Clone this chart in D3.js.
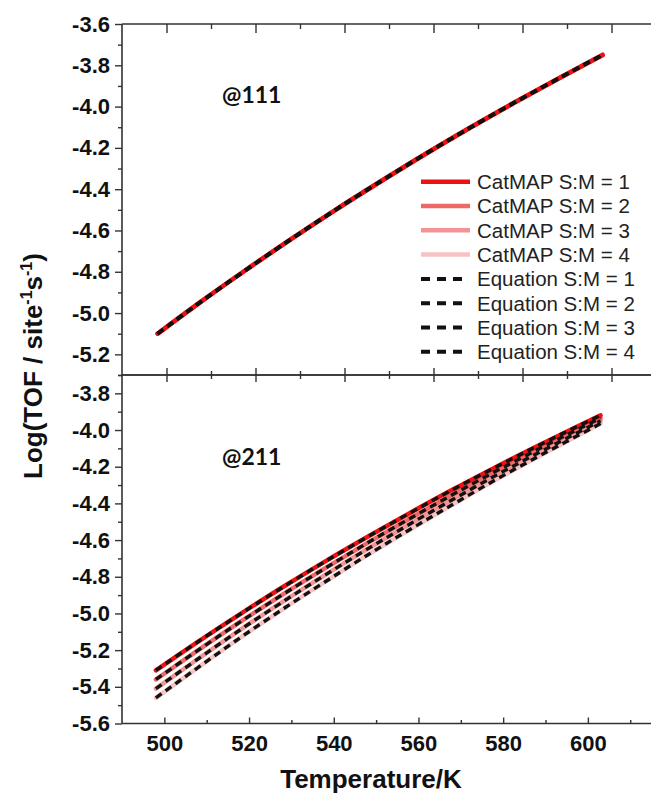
<!DOCTYPE html>
<html>
<head>
<meta charset="utf-8">
<script src="https://cdn.jsdelivr.net/npm/d3@7"></script>
<style>
  body { margin: 0; background: #fff; }
  svg { display: block; }
</style>
</head>
<body>
<div id="chart"></div>
<script>
// ---- data: @111 panel (temperature in K, log TOF) ----
const temps111 = [498, 508, 518, 528, 538, 548, 558, 568, 578, 588, 598];
const catmap111_1 = [-5.100, -4.941, -4.789, -4.642, -4.500, -4.364, -4.232, -4.105, -3.983, -3.865, -3.750];
const catmap111_2 = [-5.100, -4.941, -4.789, -4.642, -4.500, -4.364, -4.232, -4.105, -3.983, -3.865, -3.750];
const catmap111_3 = [-5.100, -4.941, -4.789, -4.642, -4.500, -4.364, -4.232, -4.105, -3.983, -3.865, -3.750];
const catmap111_4 = [-5.100, -4.941, -4.789, -4.642, -4.500, -4.364, -4.232, -4.105, -3.983, -3.865, -3.750];
const equation111_1 = [-5.100, -4.941, -4.789, -4.642, -4.500, -4.364, -4.232, -4.105, -3.983, -3.865, -3.750];
const equation111_2 = [-5.100, -4.941, -4.789, -4.642, -4.500, -4.364, -4.232, -4.105, -3.983, -3.865, -3.750];
const equation111_3 = [-5.100, -4.941, -4.789, -4.642, -4.500, -4.364, -4.232, -4.105, -3.983, -3.865, -3.750];
const equation111_4 = [-5.100, -4.941, -4.789, -4.642, -4.500, -4.364, -4.232, -4.105, -3.983, -3.865, -3.750];

// ---- data: @211 panel ----
const temps211 = [498, 508, 518, 528, 538, 548, 558, 568, 578, 588, 598, 603];
const catmap211_1 = [-5.310, -5.153, -5.002, -4.856, -4.716, -4.582, -4.452, -4.326, -4.205, -4.088, -3.975, -3.920];
const catmap211_2 = [-5.360, -5.200, -5.045, -4.896, -4.753, -4.615, -4.482, -4.353, -4.228, -4.108, -3.992, -3.935];
const catmap211_3 = [-5.410, -5.247, -5.088, -4.936, -4.790, -4.648, -4.512, -4.380, -4.251, -4.128, -4.009, -3.950];
const catmap211_4 = [-5.460, -5.294, -5.131, -4.976, -4.827, -4.681, -4.542, -4.407, -4.274, -4.148, -4.026, -3.965];
const equation211_1 = [-5.310, -5.153, -5.002, -4.856, -4.716, -4.582, -4.452, -4.326, -4.205, -4.088, -3.975, -3.920];
const equation211_2 = [-5.360, -5.200, -5.045, -4.896, -4.753, -4.615, -4.482, -4.353, -4.228, -4.108, -3.992, -3.935];
const equation211_3 = [-5.410, -5.247, -5.088, -4.936, -4.790, -4.648, -4.512, -4.380, -4.251, -4.128, -4.009, -3.950];
const equation211_4 = [-5.460, -5.294, -5.131, -4.976, -4.827, -4.681, -4.542, -4.407, -4.274, -4.148, -4.026, -3.965];

// ---- ticks and labels ----
const xTickValues = [500, 520, 540, 560, 580, 600];
const xMinorValues = [510, 530, 550, 570, 590, 610];
const yTicks111 = [-3.6, -3.8, -4.0, -4.2, -4.4, -4.6, -4.8, -5.0, -5.2];
const yMinor111 = [-3.7, -3.9, -4.1, -4.3, -4.5, -4.7, -4.9, -5.1, -5.3];
const yTicks211 = [-3.8, -4.0, -4.2, -4.4, -4.6, -4.8, -5.0, -5.2, -5.4, -5.6];
const yMinor211 = [-3.7, -3.9, -4.1, -4.3, -4.5, -4.7, -4.9, -5.1, -5.3, -5.5];
const legendLabels = ["CatMAP S:M = 1", "CatMAP S:M = 2", "CatMAP S:M = 3", "CatMAP S:M = 4",
                      "Equation S:M = 1", "Equation S:M = 2", "Equation S:M = 3", "Equation S:M = 4"];
const redShades = ["#ee1111", "#ef6868", "#f29494", "#f7c2c2"];

const W = 651, H = 796;
const svg = d3.select("#chart").append("svg").attr("width", W).attr("height", H);

const left = 122, top1 = 24, mid = 375, bottom2 = 723.5;
const axisColor = "#333";
const tickFont = "'Liberation Sans', Arial, sans-serif";

const x111 = d3.scaleLinear().domain([490, 610]).range([left, 656]);
const y111 = d3.scaleLinear().domain([-5.3, -3.6]).range([mid, top1]);
const x211 = d3.scaleLinear().domain([490, 615]).range([left, 651.4]);
const y211 = d3.scaleLinear().domain([-5.6, -3.7]).range([bottom2, mid]);

const fmt = d => d.toFixed(1);

function styleAxis(g) {
  g.select(".domain").remove();
  g.selectAll(".tick line").attr("stroke", axisColor).attr("stroke-width", 1.4);
  g.selectAll(".tick text")
    .attr("font-family", tickFont).attr("font-size", 22).attr("font-weight", "bold").attr("fill", "#111");
}

function drawPanel(xs, ys, yTicks, yMinor, showXLabels, series, label, labelY) {
  const g = svg.append("g");
  const [x0, x1] = xs.range();
  const [yb, yt] = ys.range();

  // lines
  const line = d3.line().x(d => xs(d[0])).y(d => ys(d[1])).curve(d3.curveMonotoneX);
  const temps = series.temps;
  for (let i = 3; i >= 0; i--) {
    g.append("path")
      .datum(temps.map((t, k) => [t, series.catmap[i][k]]))
      .attr("d", line).attr("fill", "none")
      .attr("stroke", redShades[i]).attr("stroke-width", 4.5)
      .attr("stroke-linecap", "round");
  }
  for (let i = 0; i < 4; i++) {
    g.append("path")
      .datum(temps.map((t, k) => [t, series.equation[i][k]]))
      .attr("d", line).attr("fill", "none")
      .attr("stroke", "#111").attr("stroke-width", 3.4)
      .attr("stroke-dasharray", "7,5");
  }

  // left axis: minor then major ticks
  g.append("g").attr("transform", `translate(${x0},0)`)
    .call(d3.axisLeft(ys).tickValues(yMinor).tickSize(4).tickFormat(""))
    .call(styleAxis);
  g.append("g").attr("transform", `translate(${x0},0)`)
    .call(d3.axisLeft(ys).tickValues(yTicks).tickSize(7).tickPadding(5).tickFormat(fmt))
    .call(styleAxis);
  // right axis ticks (inward)
  g.append("g").attr("transform", `translate(${x1},0)`)
    .call(d3.axisLeft(ys).tickValues(yTicks).tickSize(-7).tickFormat(""))
    .call(styleAxis);

  // panel frame
  g.append("line").attr("x1", x0).attr("x2", W).attr("y1", yt).attr("y2", yt)
    .attr("stroke", axisColor).attr("stroke-width", 1.6);
  g.append("line").attr("x1", x0).attr("x2", W).attr("y1", yb).attr("y2", yb)
    .attr("stroke", axisColor).attr("stroke-width", 1.6);
  g.append("line").attr("x1", x0).attr("x2", x0).attr("y1", yt).attr("y2", yb)
    .attr("stroke", axisColor).attr("stroke-width", 1.6);

  // panel annotation
  g.append("text").attr("x", 222).attr("y", labelY)
    .attr("font-family", "Lato, 'Open Sans', sans-serif").attr("font-weight", "bold")
    .attr("font-size", 23).attr("fill", "#111").text(label);
  return g;
}

const p1 = drawPanel(x111, y111, yTicks111, yMinor111, false, {
  temps: temps111,
  catmap: [catmap111_1, catmap111_2, catmap111_3, catmap111_4],
  equation: [equation111_1, equation111_2, equation111_3, equation111_4]
}, "@111", 103);

const p2 = drawPanel(x211, y211, yTicks211, yMinor211, true, {
  temps: temps211,
  catmap: [catmap211_1, catmap211_2, catmap211_3, catmap211_4],
  equation: [equation211_1, equation211_2, equation211_3, equation211_4]
}, "@211", 465);

// x ticks for the @111 panel: inward on top, crossing at the shared edge
p1.append("g").attr("transform", `translate(0,${top1})`)
  .call(d3.axisTop(x111).tickValues(xTickValues).tickSize(-9).tickFormat(""))
  .call(styleAxis);
p1.append("g").attr("transform", `translate(0,${top1})`)
  .call(d3.axisTop(x111).tickValues(xMinorValues.filter(v => v < 610)).tickSize(-5).tickFormat(""))
  .call(styleAxis);
p1.append("g").attr("transform", `translate(0,${mid - 7})`)
  .call(d3.axisBottom(x111).tickValues(xTickValues).tickSize(14).tickFormat(""))
  .call(styleAxis);
p1.append("g").attr("transform", `translate(0,${mid - 4})`)
  .call(d3.axisBottom(x111).tickValues(xMinorValues.filter(v => v < 610)).tickSize(8).tickFormat(""))
  .call(styleAxis);

// x axis for the @211 panel: inward ticks with labels
p2.append("g").attr("transform", `translate(0,${bottom2})`)
  .call(d3.axisBottom(x211).tickValues(xMinorValues).tickSize(-3.5).tickFormat(""))
  .call(styleAxis);
const xa = p2.append("g").attr("transform", `translate(0,${bottom2})`)
  .call(d3.axisBottom(x211).tickValues(xTickValues).tickSize(-6).tickFormat(d => d))
  .call(styleAxis);
xa.selectAll(".tick text").attr("y", 12);

// axis titles
svg.append("text").attr("x", 371).attr("y", 788).attr("text-anchor", "middle")
  .attr("font-family", tickFont).attr("font-size", 26).attr("font-weight", "bold").attr("fill", "#111")
  .text("Temperature/K");

const yt = svg.append("text")
  .attr("transform", "translate(42,366) rotate(-90)")
  .attr("text-anchor", "middle")
  .attr("font-family", tickFont).attr("font-size", 26).attr("font-weight", "bold").attr("fill", "#111");
yt.append("tspan").text("Log(TOF / site");
yt.append("tspan").attr("font-size", 16).attr("dy", -10).text("-1");
yt.append("tspan").attr("dy", 10).text("s");
yt.append("tspan").attr("font-size", 16).attr("dy", -10).text("-1");
yt.append("tspan").attr("dy", 10).text(")");

// legend
const legend = svg.append("g");
legendLabels.forEach((lab, i) => {
  const ly = 181.7 + i * 24.3;
  if (i < 4) {
    legend.append("line").attr("x1", 421).attr("x2", 470).attr("y1", ly).attr("y2", ly)
      .attr("stroke", redShades[i]).attr("stroke-width", 4.5);
  } else {
    legend.append("line").attr("x1", 421).attr("x2", 463).attr("y1", ly).attr("y2", ly)
      .attr("stroke", "#111").attr("stroke-width", 4).attr("stroke-dasharray", "9,7");
  }
  legend.append("text").attr("x", 477).attr("y", ly).attr("dy", "0.36em")
    .attr("font-family", tickFont).attr("font-size", 20.5).attr("fill", "#222").text(lab);
});
</script>
</body>
</html>
